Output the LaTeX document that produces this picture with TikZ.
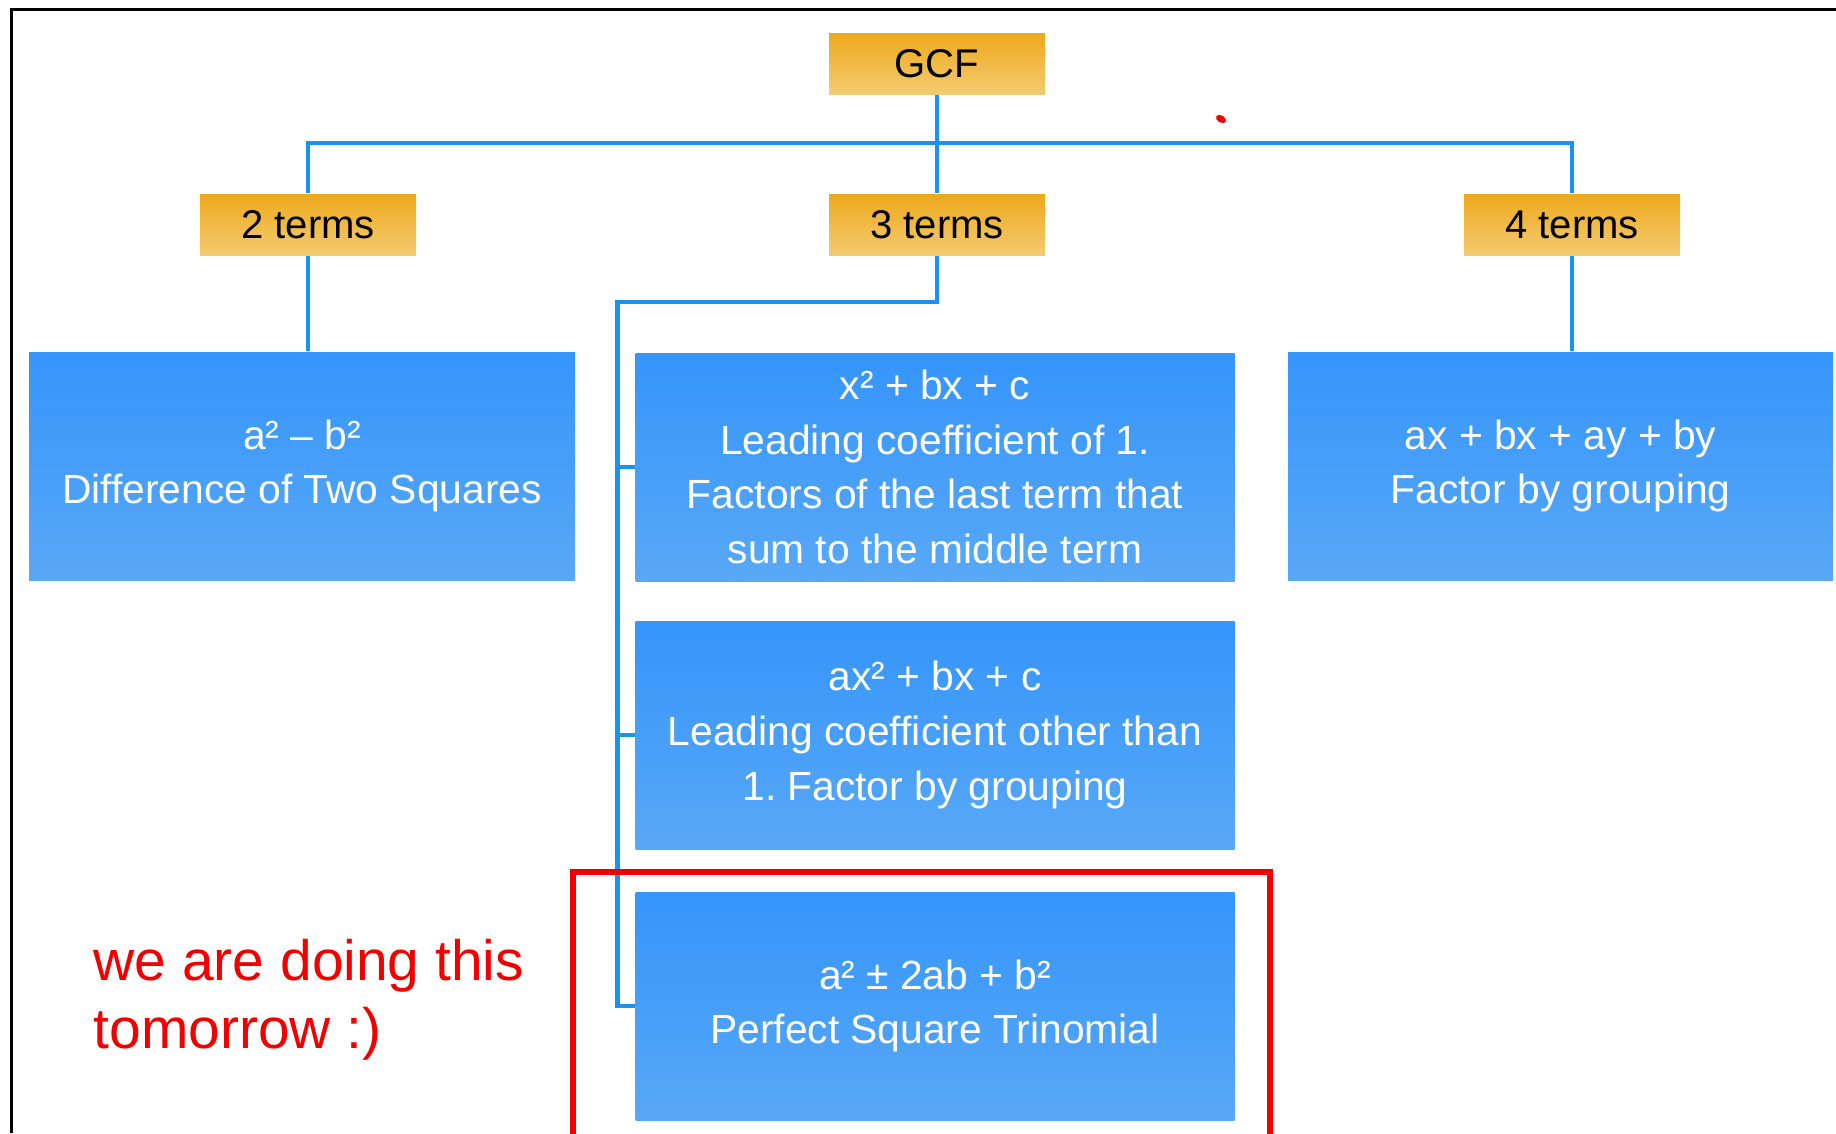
\documentclass[tikz,border=0pt]{standalone}
\usepackage{fontspec}
\setmainfont{Liberation Sans}
\frenchspacing
\definecolor{goldtop}{HTML}{EDA91C}
\definecolor{goldbot}{HTML}{F3CB70}
\definecolor{bluetop}{HTML}{3595FB}
\definecolor{bluebot}{HTML}{58A8F6}
\definecolor{linkblue}{HTML}{1A92F0}
\definecolor{markred}{HTML}{F20000}
\tikzset{
  termbox/.style={inner sep=0pt, minimum width=2.16cm, minimum height=0.61cm,
    top color=goldtop, bottom color=goldbot, draw=none,
    font=\fontsize{11.4}{14}\selectfont, text=black},
  rulebox/.style={inner sep=0pt, minimum height=2.28cm, align=center,
    top color=bluetop, bottom color=bluebot, draw=none,
    font=\fontsize{11.6}{15.6}\selectfont, text=white},
  link/.style={line width=0.045cm, draw=linkblue},
  frame/.style={line width=0.035cm, draw=black},
  redbox/.style={line width=0.055cm, draw=markred},
  note/.style={font=\fontsize{16.2}{19.4}\selectfont, text=markred, align=left, inner sep=0pt},
}

\begin{document}
\begin{tikzpicture}
\useasboundingbox (0,0) rectangle (18.36,11.33);
\draw[frame] (0.115,0) -- (0.115,11.235) -- (18.36,11.235);
% top level
\node[termbox] (gcf) at (9.37,10.695) {GCF};
\node[termbox] (t2) at (3.08,9.085) {2 terms};
\node[termbox] (t3) at (9.37,9.085) {3 terms};
\node[termbox] (t4) at (15.72,9.085) {4 terms};
% rule boxes
\node[rulebox, minimum width=5.46cm] (dts) at (3.02,6.67)
  {a² – b²\\Difference of Two Squares};
\node[rulebox, minimum width=5.99cm] (lc1) at (9.35,6.66)
  {x² + bx + c\\Leading coefficient of 1.\\Factors of the last term that\\sum to the middle term};
\node[rulebox, minimum width=5.45cm] (fbg) at (15.605,6.67)
  {ax + bx + ay + by\\Factor by grouping};
\node[rulebox, minimum width=5.99cm] (lc2) at (9.35,3.98)
  {ax² + bx + c\\Leading coefficient other than\\1. Factor by grouping};
\node[rulebox, minimum width=5.99cm] (pst) at (9.35,1.27)
  {a² ± 2ab + b²\\Perfect Square Trinomial};
% connectors
\coordinate (bar) at (9.37,9.90);
\coordinate (elbow) at (6.175,8.31);
\draw[link] (gcf) -- (t3);
\draw[link] (t2.north) |- (bar) -| (t4.north);
\draw[link] (t2.south) -- (t2.south |- dts.north);
\draw[link] (t4.south) -- (t4.south |- fbg.north);
\draw[link] (t3.south) |- (elbow) |- (pst.west);
\draw[link] (elbow |- lc1.west) -- (lc1.west);
\draw[link] (elbow |- lc2.west) -- (lc2.west);
% red marks
\draw[redbox] (5.73,-0.3) rectangle (12.70,2.61);
\node[note, anchor=west] (todo) at (0.93,1.33) {we are doing this\\tomorrow :)};
\fill[markred, shift={(12.21,10.14)}, rotate=-30] (0,0) ellipse (0.055 and 0.035);
\end{tikzpicture}
\end{document}
